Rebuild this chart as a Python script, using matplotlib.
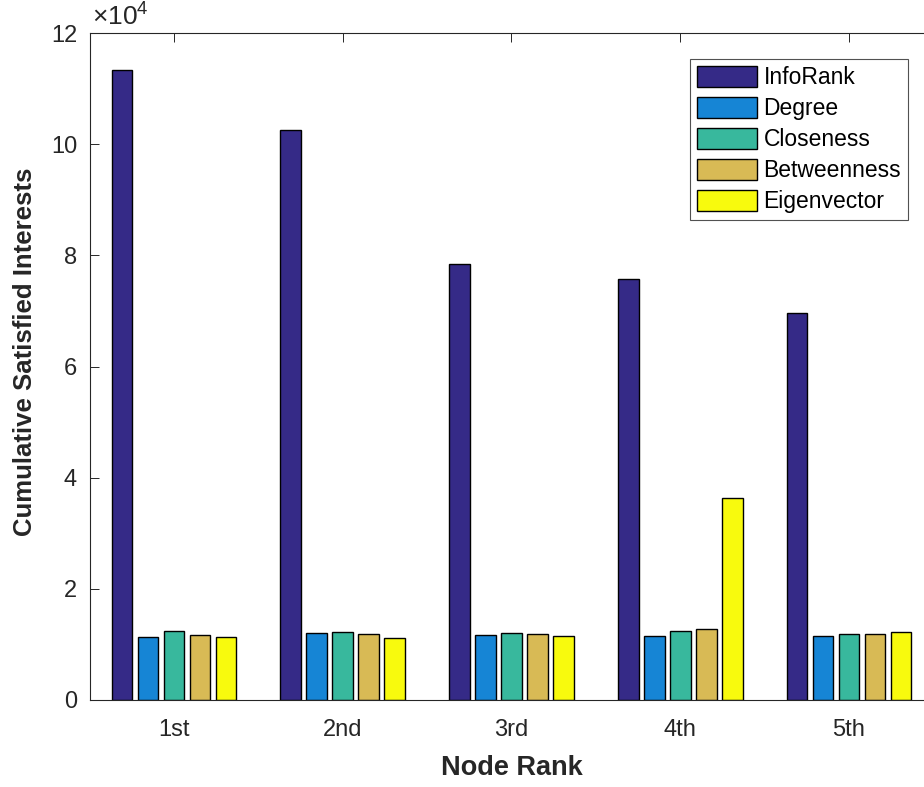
#!/usr/bin/env python3
"""Cumulative satisfied interests per node rank, grouped bars
"""

import numpy as np
import matplotlib; matplotlib.use('Agg')
import matplotlib.pyplot as plt
from matplotlib.ticker import FuncFormatter

##########################################################
ranks = ['1st', '2nd', '3rd', '4th', '5th']
methods = ['InfoRank', 'Degree', 'Closeness', 'Betweenness', 'Eigenvector']
inforank = [113300, 102500, 78500, 75800, 69600]
degree = [11300, 12100, 11700, 11600, 11600]
closeness = [12400, 12300, 12000, 12500, 11800]
betweenness = [11700, 11900, 11900, 12700, 11900]
eigenvector = [11300, 11200, 11600, 36300, 12200]
colors = ['#352A87', '#1685D5', '#38B89D', '#D8BA55', '#F8FA0D']
yticks = [0, 20000, 40000, 60000, 80000, 100000, 120000]

FG = '#262626'

##########################################################
def plot_bars(outpath):
    """Grouped bar chart in matlab fashion"""
    plt.rcParams['font.family'] = ['Liberation Sans', 'DejaVu Sans']
    plt.rcParams['mathtext.fontset'] = 'custom'
    plt.rcParams['mathtext.rm'] = 'Liberation Sans'
    plt.rcParams['mathtext.it'] = 'Liberation Sans'

    W, H = 924, 787
    fig = plt.figure(figsize=(W / 100, H / 100), dpi=100)
    ax = fig.add_axes([89.6 / W, 87 / H, 843.75 / W, 667 / H])

    series = [inforank, degree, closeness, betweenness, eigenvector]
    n = len(series)
    x = np.arange(1, len(ranks) + 1)
    groupw = min(0.8, n / (n + 1.5))
    slot = groupw / n
    for i, (vals, lab, c) in enumerate(zip(series, methods, colors)):
        off = -groupw / 2 + (2 * i + 1) * slot / 2
        ax.bar(x + off, vals, width=0.8 * slot, color=c, edgecolor='black',
               linewidth=1.0, label=lab, zorder=2)

    ax.set_xlim(0.5, 5.5)
    ax.set_ylim(0, 120000)
    ax.set_xticks(x)
    ax.set_xticklabels(ranks)
    ax.set_yticks(yticks)
    ax.yaxis.set_major_formatter(FuncFormatter(lambda v, p: '{:g}'.format(v / 1e4)))
    ax.tick_params(direction='in', length=6.5, width=0.7, colors=FG,
                   labelsize=17, top=True, right=True, pad=9)
    ax.tick_params(axis='x', pad=14)
    for s in ax.spines.values():
        s.set_color(FG); s.set_linewidth(0.8)

    ax.text(0.003, 1.004, r'$\times$10$^{4}$', transform=ax.transAxes,
            fontsize=19, color=FG, ha='left', va='bottom')

    ax.set_xlabel('Node Rank', fontsize=19.5, fontweight='bold', color=FG, labelpad=10)
    ax.set_ylabel('Cumulative Satisfied Interests', fontsize=18.5,
                  fontweight='bold', color=FG)
    ax.yaxis.set_label_coords((37 - 89.6) / 843.75, (700 - 351.5) / 667)

    leg = ax.legend(loc='upper right', bbox_to_anchor=(908 / W, 1 - 58.7 / H),
                    bbox_transform=fig.transFigure, fontsize=16.5, frameon=True,
                    fancybox=False, handlelength=2.6, handleheight=1.05,
                    labelspacing=0.33, handletextpad=0.3, borderpad=0.3,
                    borderaxespad=0)
    leg.get_frame().set_edgecolor(FG)
    leg.get_frame().set_linewidth(0.8)

    fig.savefig(outpath, dpi=100)

##########################################################
def main():
    plot_bars('out.png')

##########################################################
if __name__ == "__main__":
    main()
